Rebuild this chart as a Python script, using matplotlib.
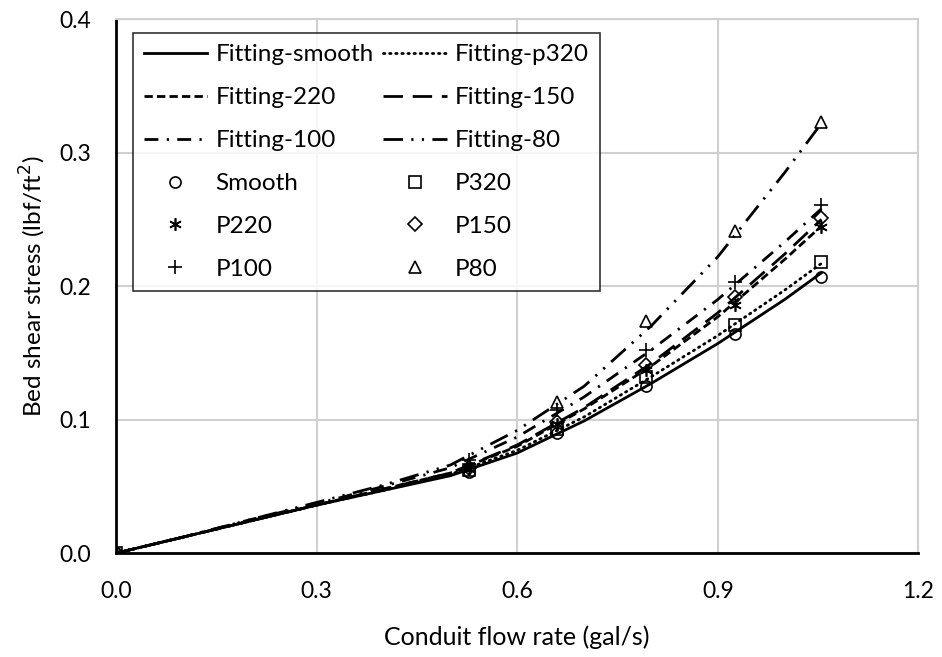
import numpy as np
import matplotlib
matplotlib.use("Agg")
import matplotlib.pyplot as plt
from matplotlib.ticker import FormatStrFormatter

plt.rcParams['font.family'] = ['Lato', 'DejaVu Sans']

# measured points (gal/s, lbf/ft2)
flow = [0.0, 0.528, 0.660, 0.793, 0.926, 1.054]
smooth = [0.0, 0.061, 0.090, 0.125, 0.164, 0.207]
p320 = [0.0, 0.062, 0.093, 0.132, 0.171, 0.218]
p220 = [0.0, 0.063, 0.097, 0.137, 0.186, 0.244]
p150 = [0.0, 0.064, 0.098, 0.141, 0.192, 0.251]
p100 = [0.0, 0.070, 0.107, 0.152, 0.203, 0.261]
p80 = [0.0, 0.066, 0.113, 0.174, 0.241, 0.323]

# fitted curves
fit_x = [0.0, 0.1, 0.2, 0.3, 0.4, 0.5, 0.6, 0.7, 0.8, 0.9, 1.0, 1.055]
fit_smooth = [0.0, 0.012, 0.024, 0.036, 0.047, 0.058, 0.075, 0.099, 0.127, 0.157, 0.190, 0.210]
fit_p320 = [0.0, 0.012, 0.024, 0.036, 0.047, 0.059, 0.077, 0.102, 0.132, 0.163, 0.197, 0.217]
fit_220 = [0.0, 0.012, 0.024, 0.036, 0.048, 0.060, 0.080, 0.108, 0.140, 0.177, 0.220, 0.245]
fit_150 = [0.0, 0.012, 0.024, 0.036, 0.048, 0.060, 0.081, 0.109, 0.142, 0.180, 0.224, 0.250]
fit_100 = [0.0, 0.012, 0.025, 0.037, 0.050, 0.064, 0.087, 0.117, 0.152, 0.190, 0.233, 0.258]
fit_80 = [0.0, 0.012, 0.025, 0.038, 0.051, 0.066, 0.092, 0.125, 0.170, 0.222, 0.285, 0.322]

fig = plt.figure(figsize=(9.42, 6.57), dpi=100)
ax = fig.add_axes([0.123, 0.158, 0.852, 0.813])

lw = 2.0
l_smooth, = ax.plot(fit_x, fit_smooth, color='black', lw=lw, ls='-', label='Fitting-smooth')
l_p320, = ax.plot(fit_x, fit_p320, color='black', lw=lw, ls=(0, (0.5, 1.7)),
                  dash_capstyle='round', label='Fitting-p320')
l_220, = ax.plot(fit_x, fit_220, color='black', lw=lw, ls=(0, (3, 1.5)), label='Fitting-220')
l_150, = ax.plot(fit_x, fit_150, color='black', lw=lw, ls=(0, (7, 3.5)), label='Fitting-150')
l_100, = ax.plot(fit_x, fit_100, color='black', lw=lw, ls=(0, (5, 3, 0.8, 3)), label='Fitting-100')
l_80, = ax.plot(fit_x, fit_80, color='black', lw=lw, ls=(0, (7, 3, 0.8, 3, 0.8, 3)), label='Fitting-80')

mk = dict(color='black', ls='none', markerfacecolor='none', markeredgewidth=1.2)
m_smooth, = ax.plot(flow, smooth, marker='o', ms=8, label='Smooth', **mk)
m_p320, = ax.plot(flow, p320, marker='s', ms=8, label='P320', **mk)
m_p220, = ax.plot(flow, p220, marker=(6, 2, 0), ms=9, label='P220', **mk)
m_p150, = ax.plot(flow, p150, marker='D', ms=7, label='P150', **mk)
m_p100, = ax.plot(flow, p100, marker='+', ms=10, label='P100', **mk)
m_p80, = ax.plot(flow, p80, marker='^', ms=9, label='P80', **mk)

ax.set_xlim(0, 1.2)
ax.set_ylim(0, 0.4)
ax.set_xticks([0.0, 0.3, 0.6, 0.9, 1.2])
ax.set_yticks([0.0, 0.1, 0.2, 0.3, 0.4])
ax.xaxis.set_major_formatter(FormatStrFormatter('%.1f'))
ax.yaxis.set_major_formatter(FormatStrFormatter('%.1f'))
ax.tick_params(length=0, labelsize=16.5)
ax.tick_params(axis='x', pad=20)
ax.tick_params(axis='y', pad=18)
ax.grid(True, color='#d0d0d0', lw=1.5)
ax.set_axisbelow(True)
for side in ['top', 'right']:
    ax.spines[side].set_color('#d0d0d0')
    ax.spines[side].set_linewidth(1.5)
for side in ['left', 'bottom']:
    ax.spines[side].set_color('black')
    ax.spines[side].set_linewidth(2.0)

ax.set_xlabel('Conduit flow rate (gal/s)', fontsize=18, labelpad=17)
ax.set_ylabel('Bed shear stress (lbf/ft$^2$)', fontsize=17.5, labelpad=8)

handles = [l_smooth, l_220, l_100, m_smooth, m_p220, m_p100,
           l_p320, l_150, l_80, m_p320, m_p150, m_p80]
leg = ax.legend(handles=handles, ncol=2, loc='upper left', bbox_to_anchor=(0.021, 0.973),
                fontsize=17.5, frameon=True, fancybox=False, handlelength=2.6,
                handletextpad=0.35, columnspacing=0.4, labelspacing=0.9,
                borderpad=0.45, borderaxespad=0)
leg.get_frame().set_edgecolor('black')
leg.get_frame().set_linewidth(1.2)

fig.savefig('out.png', dpi=100)
